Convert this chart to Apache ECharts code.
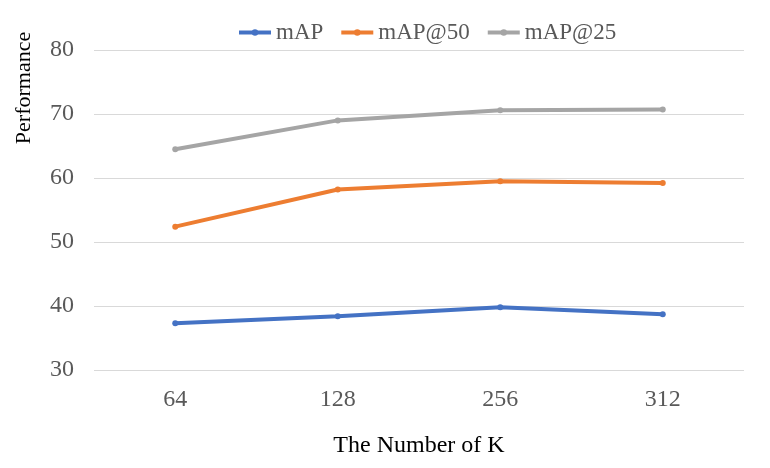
<!DOCTYPE html>
<html><head><meta charset="utf-8">
<script src="https://cdn.jsdelivr.net/npm/echarts@6/dist/echarts.min.js"></script>
<style>html,body{margin:0;padding:0;background:#fff}#c{width:770px;height:468px}</style>
</head><body><div id="c"></div>
<script>
var categories = ['64', '128', '256', '312'];
var mAP = [37.3, 38.4, 39.8, 38.7];
var mAP50 = [52.4, 58.2, 59.5, 59.2];
var mAP25 = [64.5, 69.0, 70.6, 70.7];
var seriesNames = ['mAP', 'mAP@50', 'mAP@25'];
var colors = ['#4472C4', '#ED7D31', '#A5A5A5'];
var font = '"Liberation Serif", "Times New Roman", serif';
var chart = echarts.init(document.getElementById('c'));
function mk(name, data, color) {
  return {name: name, type: 'line', data: data, symbol: 'circle', symbolSize: 6,
    lineStyle: {width: 4, color: color}, itemStyle: {color: color}, animation: false};
}
chart.setOption({
  animation: false,
  color: colors,
  legend: {top: 16, left: 232, itemWidth: 32, itemHeight: 8, itemGap: 16,
    lineStyle: {width: 4}, itemStyle: {borderWidth: 0},
    textStyle: {fontFamily: font, fontSize: 23, color: '#595959'},
    data: seriesNames},
  grid: {left: 94, right: 26, top: 50, bottom: 98},
  graphic: [{type: 'text', x: 24, y: 88, rotation: Math.PI / 2,
    style: {text: 'Performance', fontFamily: font, fontSize: 22, fill: '#000',
      textAlign: 'center', textVerticalAlign: 'middle'}}],
  xAxis: {type: 'category', data: categories, boundaryGap: true,
    name: 'The Number of K', nameLocation: 'middle', nameGap: 64,
    nameTextStyle: {fontFamily: font, fontSize: 24, color: '#000'},
    axisLine: {show: false}, axisTick: {show: false},
    axisLabel: {fontFamily: font, fontSize: 24, color: '#595959', margin: 18}},
  yAxis: {type: 'value', min: 30, max: 80, interval: 10,
    axisLine: {show: false}, axisTick: {show: false},
    axisLabel: {fontFamily: font, fontSize: 24, color: '#595959', margin: 20},
    splitLine: {lineStyle: {color: '#D9D9D9', width: 1}}},
  series: [mk(seriesNames[0], mAP, colors[0]), mk(seriesNames[1], mAP50, colors[1]), mk(seriesNames[2], mAP25, colors[2])]
});
</script></body></html>
